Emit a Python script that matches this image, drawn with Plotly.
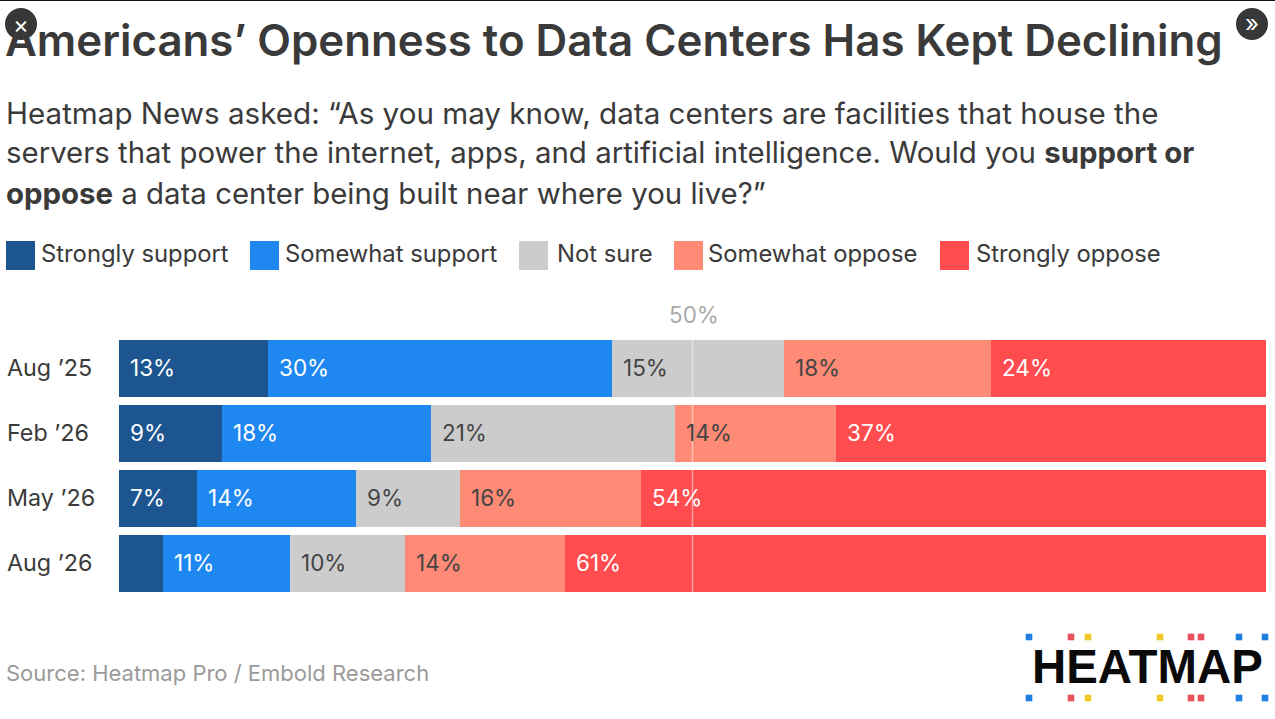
import plotly.graph_objects as go

W = 1275
H = 719

dates = ["Aug ’25", "Feb ’26", "May ’26", "Aug ’26"]
strongly_support = [13, 9, 6.8, 3.8]
somewhat_support = [30, 18.2, 13.9, 11.1]
not_sure = [15, 21.3, 9, 10]
somewhat_oppose = [18, 14, 15.8, 14]
strongly_oppose = [24, 37.5, 54.5, 61.1]

strongly_support_labels = ["13%", "9%", "7%", ""]
somewhat_support_labels = ["30%", "18%", "14%", "11%"]
not_sure_labels = ["15%", "21%", "9%", "10%"]
somewhat_oppose_labels = ["18%", "14%", "16%", "14%"]
strongly_oppose_labels = ["24%", "37%", "54%", "61%"]

series_names = ["Strongly support", "Somewhat support", "Not sure", "Somewhat oppose", "Strongly oppose"]
series_values = [strongly_support, somewhat_support, not_sure, somewhat_oppose, strongly_oppose]
series_labels = [strongly_support_labels, somewhat_support_labels, not_sure_labels,
                 somewhat_oppose_labels, strongly_oppose_labels]
colors = ["#1c5590", "#1f87f0", "#cccccc", "#ff8a75", "#ff4d4f"]
label_colors = ["#ffffff", "#ffffff", "#444444", "#444444", "#ffffff"]

FONT = "Inter"
DARK = "#3a3a3a"


# pixel helpers, the layout was measured from the top left corner
def px(x):
    return x / W


def py(y):
    return 1 - y / H


def text(x, y, s, size, color=DARK, weight=400, family=FONT, anchor="left"):
    return dict(xref="paper", yref="paper", x=px(x), y=py(y), text=s, showarrow=False,
                xanchor=anchor, yanchor="middle",
                font=dict(family=family, size=size, color=color, weight=weight))


def box(x0, y0, x1, y1, color):
    return dict(type="rect", xref="paper", yref="paper", x0=px(x0), x1=px(x1), y0=py(y0), y1=py(y1),
                fillcolor=color, line=dict(width=0), layer="above")


fig = go.Figure()
for name, values, color in zip(series_names, series_values, colors):
    fig.add_trace(go.Bar(y=dates, x=values, name=name, orientation="h", marker=dict(color=color, line=dict(width=0)),
                         width=0.877, showlegend=False, hoverinfo="x+y"))

annotations = []
shapes = []

# value labels sit just inside the start of each segment
for i in range(len(dates)):
    start = 0
    for values, labels, lcolor in zip(series_values, series_labels, label_colors):
        if labels[i]:
            annotations.append(dict(x=start, y=dates[i], xref="x", yref="y", text=labels[i], showarrow=False,
                                    xanchor="left", yanchor="middle", xshift=9, yshift=1,
                                    font=dict(family=FONT, size=22.5, color=lcolor)))
        start += values[i]
    annotations.append(dict(xref="paper", x=px(5), y=dates[i], yref="y", text=dates[i], showarrow=False,
                            xanchor="left", yanchor="middle", yshift=1,
                            font=dict(family=FONT, size=23.3, color=DARK)))

# 50% marker
shapes.append(dict(type="line", xref="x", yref="paper", x0=50, x1=50, y0=py(592), y1=py(340),
                   line=dict(color="rgba(255,255,255,0.45)", width=1.5), layer="above"))
annotations.append(text(693.5, 314, "50%", 22.5, color="#aaaaaa", anchor="center"))

# title block
annotations.append(text(3, 41, "Americans’ Openness to Data Centers Has Kept Declining", 43.8, weight=600))
annotations.append(text(3.5, 113, "Heatmap News asked: “As you may know, data centers are facilities that house the", 29.6))
annotations.append(text(3.5, 153, "servers that power the internet, apps, and artificial intelligence. Would you <b>support or</b>", 29.4))
annotations.append(text(3.5, 193, "<b>oppose</b> a data center being built near where you live?”", 29.4))

# legend row
legend_swatch_x = [6, 250, 519, 674, 940]
legend_text_x = [39, 283, 555, 706, 974]
for name, color, sx, tx in zip(series_names, colors, legend_swatch_x, legend_text_x):
    shapes.append(box(sx, 241, sx + 29, 270, color))
    annotations.append(text(tx, 254, name, 23.8))

# source and logo
annotations.append(text(3.5, 673, "Source: Heatmap Pro / Embold Research", 22, color="#9a9a9a"))
annotations.append(text(1147, 666.5, "HEATMAP", 47.4, color="#0a0a0a", weight=700, family="Liberation Sans", anchor="center"))
logo_blue = "#1f7fe0"
logo_red = "#e8505b"
logo_yellow = "#eec92a"
logo_x = [1029, 1071, 1088, 1160, 1191, 1201, 1239, 1265]
logo_colors = [logo_blue, logo_red, logo_yellow, logo_yellow, logo_red, logo_red, logo_blue, logo_blue]
for lx, lc in zip(logo_x, logo_colors):
    for ly in [637, 698]:
        shapes.append(box(lx - 3.3, ly - 3.3, lx + 3.3, ly + 3.3, lc))

# page furniture caught in the screenshot
shapes.append(box(0, 0, W, 1, "#111111"))
for cx, cy in [(21, 24), (1252, 24)]:
    shapes.append(dict(type="circle", xref="paper", yref="paper", x0=px(cx - 16), x1=px(cx + 16),
                       y0=py(cy - 16), y1=py(cy + 16), fillcolor="rgba(40,40,40,0.93)", line=dict(width=0), layer="above"))
annotations.append(text(21, 24, "×", 24, color="#ffffff", anchor="center"))
annotations.append(text(1252, 23, "»", 24, color="#ffffff", anchor="center"))

fig.update_layout(
    barmode="stack",
    width=W,
    height=H,
    margin=dict(l=0, r=0, t=0, b=0),
    paper_bgcolor="#ffffff",
    plot_bgcolor="#ffffff",
    xaxis=dict(domain=[px(119), px(1266)], range=[0, 100], visible=False, fixedrange=True),
    yaxis=dict(domain=[py(596.5), py(336)], range=[3.5, -0.5], type="category", categoryorder="array",
               categoryarray=dates, visible=False, fixedrange=True),
    annotations=annotations,
    shapes=shapes,
)

# default page margin would push the figure 8px off
fig.write_html("out.html", config=dict(displayModeBar=False),
               post_script="document.body.style.margin='0';document.documentElement.style.overflow='hidden';")
